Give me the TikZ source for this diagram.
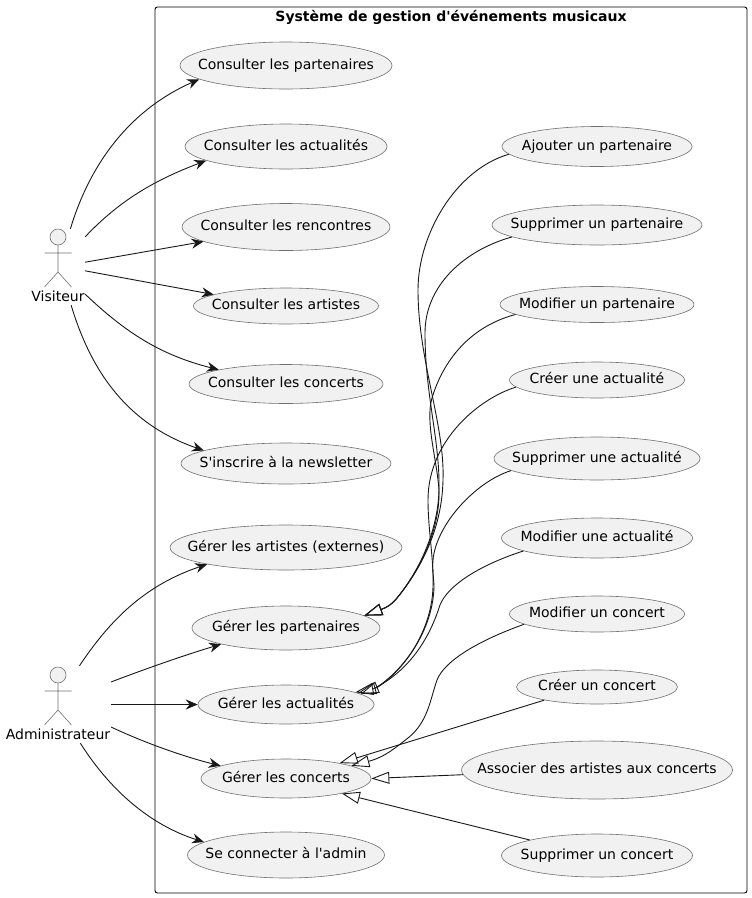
\documentclass[tikz,border=0pt]{standalone}
\usepackage{fontspec}
\setmainfont{DejaVu Sans}
\usetikzlibrary{arrows.meta,shapes.geometric}

\definecolor{umlfill}{HTML}{F1F1F1}
\definecolor{umlline}{HTML}{181818}
\definecolor{umlthin}{HTML}{707070}

\tikzset{
  usecase/.style={ellipse,draw=umlthin,line width=.6pt,fill=umlfill,inner xsep=-30pt,inner ysep=0pt,text height=10pt,text depth=3pt},
  actorbox/.style={rectangle,inner sep=0pt},
  actorline/.style={draw=umlthin,line width=.6pt},
  actorname/.style={inner sep=0pt,text height=10pt,text depth=3pt},
  assoc/.style={draw=umlline,line width=.9pt,-{Stealth[length=12pt,width=10pt,inset=4pt]}},
  gen/.style={draw=umlline,line width=.9pt,-{Triangle[open,length=18pt,width=12pt]}}
}

\newcommand{\stickman}[2]{
  \draw[actorline,fill=umlfill] (#1,#2) circle (8);
  \draw[actorline] (#1,#2+8) -- (#1,#2+35) (#1-13.5,#2+16) -- (#1+13.5,#2+16)
    (#1-13.5,#2+50) -- (#1,#2+35) -- (#1+13.5,#2+50);
}

\begin{document}
\begin{tikzpicture}[x=1pt,y=-1pt,font=\fontsize{14}{16}\selectfont]
\useasboundingbox (0,0) rectangle (752,898);

\draw[black,line width=.9pt,rounded corners=2.5pt] (155,7) rectangle (747,893);
\node[font=\fontsize{14}{16}\selectfont\bfseries] (titre) at (451,17) {Système de gestion d\textquotesingle événements musicaux};

% acteurs
\node[actorbox,minimum width=54pt,minimum height=76pt] (visiteur) at (58,267) {};
\stickman{58}{237}
\node[actorname] (visiteurnom) at (58,298) {Visiteur};

\node[actorbox,minimum width=106pt,minimum height=77pt] (admin) at (58,704.5) {};
\stickman{58}{675}
\node[actorname] (adminnom) at (58,736) {Administrateur};

% colonne gauche
\node[usecase,minimum width=212pt,minimum height=47pt] (cpart) at (286,65.5) {Consulter les partenaires};
\node[usecase,minimum width=202pt,minimum height=45pt] (cact) at (286,146.5) {Consulter les actualités};
\node[usecase,minimum width=208pt,minimum height=47pt] (crenc) at (286,227) {Consulter les rencontres};
\node[usecase,minimum width=185pt,minimum height=36pt] (cart) at (286,306) {Consulter les artistes};
\node[usecase,minimum width=194pt,minimum height=39pt] (cconc) at (286,384) {Consulter les concerts};
\node[usecase,minimum width=210pt,minimum height=41pt] (news) at (286,463.5) {S\textquotesingle inscrire à la newsletter};
\node[usecase,minimum width=232pt,minimum height=45pt] (gart) at (286,547.5) {Gérer les artistes (externes)};
\node[usecase,minimum width=188pt,minimum height=44pt] (gpart) at (286,628) {Gérer les partenaires};
\node[usecase,minimum width=176pt,minimum height=39pt] (gact) at (286,704.5) {Gérer les actualités};
\node[usecase,minimum width=170pt,minimum height=39pt] (gconc) at (286,778.5) {Gérer les concerts};
\node[usecase,minimum width=197pt,minimum height=46pt] (login) at (286,855) {Se connecter à l\textquotesingle admin};

% colonne droite
\node[usecase,minimum width=190pt,minimum height=40pt] (addpart) at (597,146.5) {Ajouter un partenaire};
\node[usecase,minimum width=210pt,minimum height=40pt] (delpart) at (597,225) {Supprimer un partenaire};
\node[usecase,minimum width=194pt,minimum height=36pt] (modpart) at (597,304.5) {Modifier un partenaire};
\node[usecase,minimum width=175pt,minimum height=36pt] (addact) at (597,380) {Créer une actualité};
\node[usecase,minimum width=206pt,minimum height=43pt] (delact) at (597,458.5) {Supprimer une actualité};
\node[usecase,minimum width=191pt,minimum height=40pt] (modact) at (597,538) {Modifier une actualité};
\node[usecase,minimum width=175pt,minimum height=36pt] (modconc) at (597,614) {Modifier un concert};
\node[usecase,minimum width=161pt,minimum height=34pt] (addconc) at (597,687) {Créer un concert};
\node[usecase,minimum width=271pt,minimum height=58pt] (assoc) at (597,770) {Associer des artistes aux concerts};
\node[usecase,minimum width=191pt,minimum height=43pt] (delconc) at (597,855.5) {Supprimer un concert};

% visiteur
\draw[assoc] (visiteur.72.5) .. controls (88,170) and (125,112) .. (cpart.189);
\draw[assoc] (visiteur.48) .. controls (120,200) and (155,180) .. (cact.190);
\draw[assoc] (visiteur.10.5) -- (crenc.190);
\draw[assoc] (visiteur.-8.4) -- (cart.171.5);
\draw[assoc] (visiteur.-45) .. controls (125,332) and (160,355) .. (cconc.168);
\draw[assoc] (visiteur.-71) .. controls (92,375) and (130,425) .. (news.171);

% administrateur
\draw[assoc] (admin.61.4) .. controls (110,620) and (145,585) .. (gart.192);
\draw[assoc] (admin.23.9) .. controls (145,669) and (185,655) .. (gpart.194);
\draw[assoc] (admin.east) -- (gact.180);
\draw[assoc] (admin.-23.9) .. controls (145,743) and (185,757) .. (gconc.169);
\draw[assoc] (admin.-60.3) .. controls (110,790) and (150,825) .. (login.171.5);

% partenaires
\draw[gen] (addpart.185) .. controls (455,170) and (418,235) .. (418,290) .. controls (418,360) and (445,425) .. (443,480) .. controls (442,530) and (420,570) .. (397,598) .. controls (392,604) and (388,607) .. (gpart.9);
\draw[gen] (delpart.188) .. controls (465,250) and (425,285) .. (425,333) .. controls (425,395) and (440,440) .. (439,490) .. controls (438,530) and (420,570) .. (397,598) .. controls (392,604) and (388,607) .. (gpart.9);
\draw[gen] (modpart.187) .. controls (475,325) and (445,355) .. (432,398) .. controls (425,422) and (437,460) .. (439,490) .. controls (440,530) and (420,570) .. (397,598) .. controls (392,604) and (388,607) .. (gpart.9);

% actualites
\draw[gen] (addact.185.5) .. controls (480,398) and (428,440) .. (428,500) .. controls (428,530) and (434,560) .. (433,587) .. controls (432,625) and (410,665) .. (378,687) -- (gact.8.3);
\draw[gen] (delact.188.6) .. controls (475,482) and (436,525) .. (433,560) .. controls (432,570) and (434,580) .. (434,587) .. controls (433,625) and (410,665) .. (376,688) -- (gact.9.5);
\draw[gen] (modact.190) .. controls (480,565) and (448,585) .. (440,605) .. controls (432,630) and (415,668) .. (373,689) -- (gact.10);

% concerts
\draw[gen] (modconc.188) .. controls (480,640) and (445,660) .. (437,680) .. controls (430,700) and (428,722) .. (408,738) .. controls (395,748) and (385,757) .. (gconc.11);
\draw[gen] (addconc.194) -- (gconc.16.5);
\draw[gen] (assoc.182) -- (gconc.east);
\draw[gen] (delconc.167) -- (gconc.-15);

\end{tikzpicture}
\end{document}
